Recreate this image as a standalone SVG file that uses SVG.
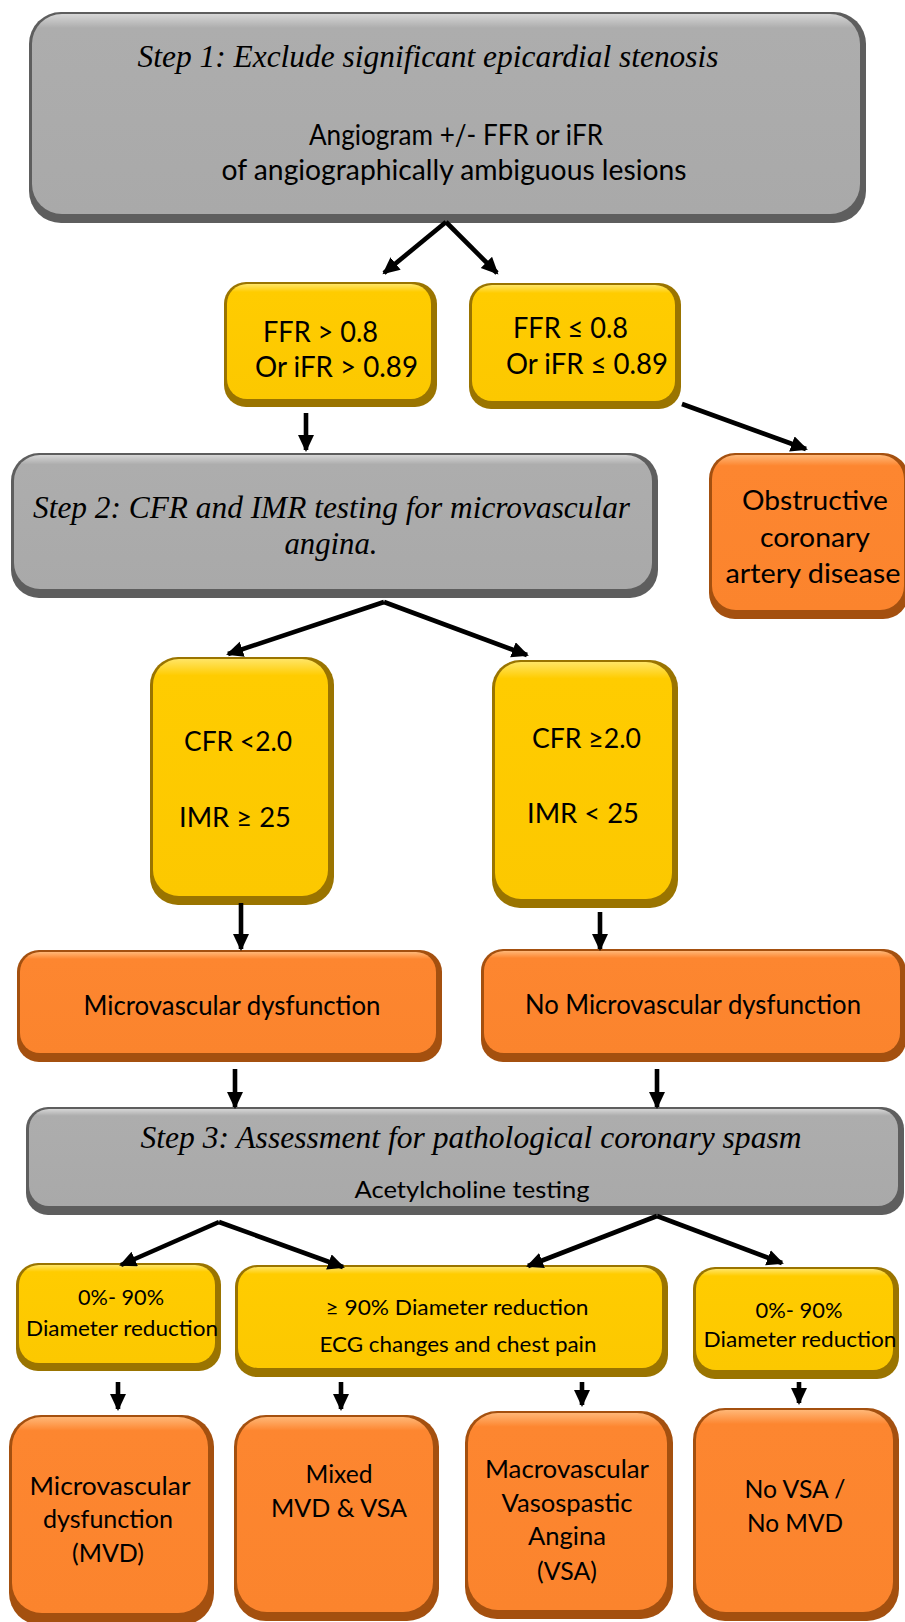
<svg xmlns="http://www.w3.org/2000/svg" width="905" height="1622" viewBox="0 0 905 1622">
<defs>
<style>
.gE{fill:#5e5e5e}.gF{fill:url(#gG)}
.yE{fill:#9a7400}.yF{fill:url(#yG)}
.oE{fill:#a4500f}.oF{fill:url(#oG)}
.ser{font-family:"Liberation Serif",serif;font-style:italic;fill:#000}
.san{font-family:Lato,"Open Sans","Liberation Sans",sans-serif;fill:#000}
.c{text-anchor:middle}
.con line{stroke:#000;stroke-width:4.6;marker-end:url(#ah)}
</style>
<linearGradient id="gG" x1="0" y1="0" x2="0" y2="1"><stop offset="0" stop-color="#d6d6d6"/><stop offset="0.07" stop-color="#adadad"/><stop offset="1" stop-color="#a9a9a9"/></linearGradient>
<linearGradient id="yG" x1="0" y1="0" x2="0" y2="1"><stop offset="0" stop-color="#ffe566"/><stop offset="0.07" stop-color="#ffcc00"/><stop offset="1" stop-color="#fcc800"/></linearGradient>
<linearGradient id="oG" x1="0" y1="0" x2="0" y2="1"><stop offset="0" stop-color="#ffb777"/><stop offset="0.07" stop-color="#fd8630"/><stop offset="1" stop-color="#fb842d"/></linearGradient>
<marker id="ah" markerUnits="userSpaceOnUse" markerWidth="18" markerHeight="18" refX="15" refY="8" orient="auto"><path d="M0,0 L17,8 L0,16 Z" fill="#000"/></marker>
</defs>
<rect width="905" height="1622" fill="#fff"/>

<g id="step1">
<rect class="gE" x="29" y="12" width="837" height="211" rx="32"/>
<rect class="gF" x="32" y="14" width="828" height="200" rx="30"/>
<text class="ser c" x="428" y="67" font-size="31" textLength="581" lengthAdjust="spacingAndGlyphs">Step 1: Exclude significant epicardial stenosis</text>
<text class="san c" x="456" y="145" font-size="29" textLength="294" lengthAdjust="spacingAndGlyphs">Angiogram +/- FFR or iFR</text>
<text class="san c" x="454" y="180" font-size="29" textLength="465" lengthAdjust="spacingAndGlyphs">of angiographically ambiguous lesions</text>
</g>

<g id="ffr_high">
<rect class="yE" x="224" y="282" width="213" height="125" rx="22"/>
<rect class="yF" x="227" y="284" width="204" height="115" rx="20"/>
<text class="san" x="263" y="342" font-size="28" textLength="115" lengthAdjust="spacingAndGlyphs">FFR &gt; 0.8</text>
<text class="san" x="255" y="377" font-size="28" textLength="163" lengthAdjust="spacingAndGlyphs">Or iFR &gt; 0.89</text>
</g>

<g id="ffr_low">
<rect class="yE" x="469" y="283" width="212" height="126" rx="22"/>
<rect class="yF" x="472" y="285" width="203" height="116" rx="20"/>
<text class="san" x="513" y="338" font-size="28" textLength="115" lengthAdjust="spacingAndGlyphs">FFR ≤ 0.8</text>
<text class="san" x="506" y="374" font-size="28" textLength="162" lengthAdjust="spacingAndGlyphs">Or iFR ≤ 0.89</text>
</g>

<g id="step2">
<rect class="gE" x="11" y="453" width="647" height="145" rx="28"/>
<rect class="gF" x="14" y="455" width="638" height="134" rx="26"/>
<text class="ser" x="33" y="518" font-size="32" textLength="597" lengthAdjust="spacingAndGlyphs">Step 2: CFR and IMR testing for microvascular</text>
<text class="ser c" x="331" y="554" font-size="32" textLength="93" lengthAdjust="spacingAndGlyphs">angina.</text>
</g>

<g id="obstructive">
<rect class="oE" x="709" y="453" width="200" height="166" rx="26"/>
<rect class="oF" x="712" y="455" width="192" height="155" rx="24"/>
<text class="san c" x="815" y="510" font-size="26" textLength="146" lengthAdjust="spacingAndGlyphs">Obstructive</text>
<text class="san c" x="815" y="547" font-size="26" textLength="110" lengthAdjust="spacingAndGlyphs">coronary</text>
<text class="san c" x="813" y="583" font-size="26" textLength="175" lengthAdjust="spacingAndGlyphs">artery disease</text>
</g>

<g id="cfr_low">
<rect class="yE" x="150" y="657" width="184" height="248" rx="28"/>
<rect class="yF" x="153" y="659" width="175" height="237" rx="26"/>
<text class="san" x="184" y="751" font-size="27" textLength="108" lengthAdjust="spacingAndGlyphs">CFR &lt;2.0</text>
<text class="san" x="179" y="827" font-size="27" textLength="112" lengthAdjust="spacingAndGlyphs">IMR ≥ 25</text>
</g>

<g id="cfr_high">
<rect class="yE" x="492" y="660" width="186" height="248" rx="28"/>
<rect class="yF" x="495" y="662" width="177" height="237" rx="26"/>
<text class="san" x="532" y="748" font-size="27" textLength="109" lengthAdjust="spacingAndGlyphs">CFR ≥2.0</text>
<text class="san" x="527" y="823" font-size="27" textLength="112" lengthAdjust="spacingAndGlyphs">IMR &lt; 25</text>
</g>

<g id="mvd">
<rect class="oE" x="17" y="950" width="425" height="112" rx="22"/>
<rect class="oF" x="20" y="952" width="416" height="101" rx="20"/>
<text class="san c" x="232" y="1015" font-size="26" textLength="297" lengthAdjust="spacingAndGlyphs">Microvascular dysfunction</text>
</g>

<g id="no_mvd">
<rect class="oE" x="481" y="949" width="425" height="113" rx="22"/>
<rect class="oF" x="484" y="951" width="416" height="102" rx="20"/>
<text class="san c" x="693" y="1014" font-size="26" textLength="336" lengthAdjust="spacingAndGlyphs">No Microvascular dysfunction</text>
</g>

<g id="step3">
<rect class="gE" x="26" y="1107" width="878" height="108" rx="22"/>
<rect class="gF" x="29" y="1109" width="869" height="97" rx="20"/>
<text class="ser c" x="471" y="1148" font-size="32" textLength="661" lengthAdjust="spacingAndGlyphs">Step 3: Assessment for pathological coronary spasm</text>
<text class="san c" x="472" y="1198" font-size="24" textLength="235" lengthAdjust="spacingAndGlyphs">Acetylcholine testing</text>
</g>

<g id="ach_a">
<rect class="yE" x="16" y="1263" width="205" height="108" rx="22"/>
<rect class="yF" x="19" y="1265" width="196" height="98" rx="20"/>
<text class="san c" x="121" y="1305" font-size="22" textLength="86" lengthAdjust="spacingAndGlyphs">0%- 90%</text>
<text class="san c" x="122" y="1336" font-size="22" textLength="192" lengthAdjust="spacingAndGlyphs">Diameter reduction</text>
</g>

<g id="ach_b">
<rect class="yE" x="235" y="1265" width="433" height="112" rx="22"/>
<rect class="yF" x="238" y="1267" width="424" height="101" rx="20"/>
<text class="san c" x="457" y="1315" font-size="22" textLength="263" lengthAdjust="spacingAndGlyphs">≥ 90% Diameter reduction</text>
<text class="san c" x="458" y="1352" font-size="22" textLength="277" lengthAdjust="spacingAndGlyphs">ECG changes and chest pain</text>
</g>

<g id="ach_c">
<rect class="yE" x="693" y="1267" width="206" height="112" rx="22"/>
<rect class="yF" x="696" y="1269" width="197" height="101" rx="20"/>
<text class="san c" x="799" y="1318" font-size="22" textLength="87" lengthAdjust="spacingAndGlyphs">0%- 90%</text>
<text class="san c" x="800" y="1347" font-size="22" textLength="193" lengthAdjust="spacingAndGlyphs">Diameter reduction</text>
</g>

<g id="res_mvd">
<rect class="oE" x="9" y="1415" width="205" height="210" rx="32"/>
<rect class="oF" x="12" y="1417" width="196" height="196" rx="30"/>
<text class="san c" x="110" y="1495" font-size="25" textLength="161" lengthAdjust="spacingAndGlyphs">Microvascular</text>
<text class="san c" x="108" y="1528" font-size="25" textLength="130" lengthAdjust="spacingAndGlyphs">dysfunction</text>
<text class="san c" x="108" y="1562" font-size="25" textLength="72" lengthAdjust="spacingAndGlyphs">(MVD)</text>
</g>

<g id="res_mixed">
<rect class="oE" x="234" y="1415" width="205" height="206" rx="32"/>
<rect class="oF" x="237" y="1417" width="196" height="195" rx="30"/>
<text class="san c" x="339" y="1483" font-size="25" textLength="67" lengthAdjust="spacingAndGlyphs">Mixed</text>
<text class="san c" x="339" y="1517" font-size="25" textLength="136" lengthAdjust="spacingAndGlyphs">MVD &amp; VSA</text>
</g>

<g id="res_vsa">
<rect class="oE" x="465" y="1411" width="208" height="208" rx="32"/>
<rect class="oF" x="468" y="1413" width="199" height="197" rx="30"/>
<text class="san c" x="567" y="1478" font-size="25" textLength="164" lengthAdjust="spacingAndGlyphs">Macrovascular</text>
<text class="san c" x="567" y="1512" font-size="25" textLength="131" lengthAdjust="spacingAndGlyphs">Vasospastic</text>
<text class="san c" x="567" y="1545" font-size="25" textLength="78" lengthAdjust="spacingAndGlyphs">Angina</text>
<text class="san c" x="567" y="1580" font-size="25" textLength="60" lengthAdjust="spacingAndGlyphs">(VSA)</text>
</g>

<g id="res_none">
<rect class="oE" x="693" y="1408" width="206" height="213" rx="32"/>
<rect class="oF" x="696" y="1410" width="197" height="202" rx="30"/>
<text class="san c" x="795" y="1498" font-size="25" textLength="101" lengthAdjust="spacingAndGlyphs">No VSA /</text>
<text class="san c" x="795" y="1532" font-size="25" textLength="96" lengthAdjust="spacingAndGlyphs">No MVD</text>
</g>

<g id="connectors" class="con">
<line x1="446" y1="222" x2="384" y2="273"/>
<line x1="446" y1="222" x2="497" y2="273"/>
<line x1="306" y1="413" x2="306" y2="450"/>
<line x1="682" y1="404" x2="806" y2="449"/>
<line x1="384" y1="602" x2="228" y2="654"/>
<line x1="384" y1="602" x2="527" y2="655"/>
<line x1="241" y1="903" x2="241" y2="949"/>
<line x1="600" y1="912" x2="600" y2="949"/>
<line x1="235" y1="1069" x2="235" y2="1107"/>
<line x1="657" y1="1069" x2="657" y2="1107"/>
<line x1="219" y1="1222" x2="121" y2="1265"/>
<line x1="219" y1="1222" x2="343" y2="1267"/>
<line x1="657" y1="1216" x2="528" y2="1266"/>
<line x1="657" y1="1216" x2="782" y2="1263"/>
<line x1="118" y1="1382" x2="118" y2="1409"/>
<line x1="341" y1="1382" x2="341" y2="1409"/>
<line x1="582" y1="1382" x2="582" y2="1405"/>
<line x1="799" y1="1382" x2="799" y2="1403"/>
</g>
</svg>
